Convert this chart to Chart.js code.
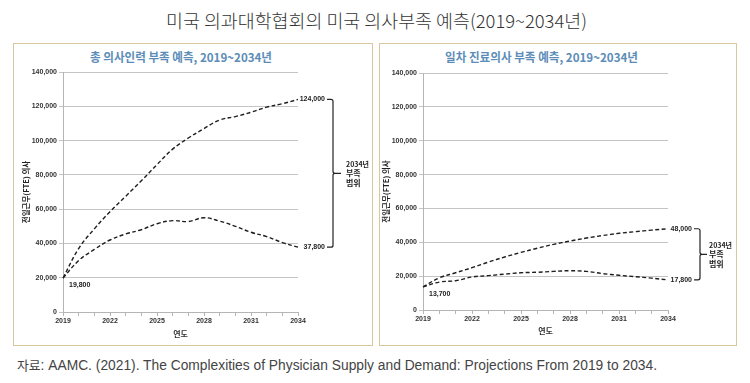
<!DOCTYPE html>
<html><head><meta charset="utf-8">
<script src="https://cdn.jsdelivr.net/npm/chart.js@4"></script>
<style>
html,body{margin:0;padding:0;background:#fff;width:750px;height:383px;overflow:hidden;position:relative;font-family:"Noto Sans CJK KR",sans-serif;}
.fit{position:absolute;white-space:nowrap;transform-origin:0 50%;line-height:1;}
#title{top:11px;font-size:18px;color:#333;font-weight:300;}
.panel{position:absolute;border:1px solid #d8c69c;top:43px;height:303px;box-sizing:border-box;}
#p1{left:13px;width:360px}
#p2{left:379px;width:358px}
.ptitle{top:51px;font-size:12px;font-weight:bold;color:#5b8db8;}
canvas{position:absolute}
#src{top:358px;font-size:14px;color:#444;font-family:"Liberation Sans Narrow","Liberation Sans",sans-serif;}
#src .k{font-family:"Noto Sans CJK KR",sans-serif;font-size:13px;}
</style></head>
<body>
<div class="fit" id="title" data-l="166" data-w="421">미국 의과대학협회의 미국 의사부족 예측(2019~2034년)</div>
<div class="panel" id="p1"></div>
<div class="panel" id="p2"></div>
<div class="fit ptitle" id="t1" data-l="90" data-w="182">총 의사인력 부족 예측, 2019~2034년</div>
<div class="fit ptitle" id="t2" data-l="445" data-w="193">일차 진료의사 부족 예측, 2019~2034년</div>
<canvas id="c1" width="357" height="302" style="left:15px;top:44px"></canvas>
<canvas id="c2" width="356" height="302" style="left:380px;top:44px"></canvas>
<div class="fit" id="src" data-l="17" data-w="640"><span class="k">자료</span>: AAMC. (2021). The Complexities of Physician Supply and Demand: Projections From 2019 to 2034.</div>
<script>
// ---- data ----
const years = ['2019','2020','2021','2022','2023','2024','2025','2026','2027','2028','2029','2030','2031','2032','2033','2034'];
const totalHigh = [19800, 37000, 48500, 58500, 67500, 76500, 86000, 95000, 101500, 107000, 112000, 114000, 116500, 119500, 121500, 124000];
const totalLow  = [19800, 30000, 36500, 42000, 45500, 48000, 51500, 53300, 52800, 55000, 53000, 50000, 46500, 44000, 40500, 37800];
const primaryHigh = [13700, 19000, 22000, 25000, 28300, 31300, 34000, 36500, 38800, 40700, 42500, 44000, 45300, 46300, 47200, 48000];
const primaryLow  = [13700, 16500, 17300, 19500, 20300, 21200, 22000, 22300, 22800, 23200, 22800, 21500, 20500, 19700, 18800, 17800];
const yTicks = [0, 20000, 40000, 60000, 80000, 100000, 120000, 140000];
const rangeLabel = ['2034년', '부족', '범위'];
const yTitle = '전일근무(FTE) 의사';
const xTitle = '연도';

// fit html text widths
document.querySelectorAll('.fit').forEach(el=>{
  const w = el.getBoundingClientRect().width;
  el.style.left = el.dataset.l + 'px';
  el.style.transform = 'scaleX(' + (parseFloat(el.dataset.w)/w) + ')';
});

const fmt = v => v.toLocaleString('en-US');
const tickFont = {family:'"Liberation Sans", Arial, sans-serif', size:7, weight:'bold'};

const annot = {
  id:'annot',
  afterDatasetsDraw(chart){
    const o = chart.options.plugins.annot;
    const {ctx, scales:{x,y}} = chart;
    const n = years.length - 1;
    const xe = x.getPixelForValue(n);
    const top = o.high[n], bot = o.low[n], start = o.high[0];
    const yT = y.getPixelForValue(top), yB = y.getPixelForValue(bot), y0 = y.getPixelForValue(start);
    const bx = xe + o.brace;
    const ym = (yT + yB) / 2;
    ctx.save();
    ctx.fillStyle = '#222';
    ctx.font = 'bold 7px "Liberation Sans", Arial, sans-serif';
    ctx.textBaseline = 'middle';
    ctx.textAlign = 'right';
    ctx.fillText(fmt(top), bx - 8, yT);
    ctx.fillText(fmt(bot), bx - 8, yB);
    ctx.textAlign = 'left';
    ctx.fillText(fmt(start), x.getPixelForValue(0) + 6, y0 + o.startDy);
    ctx.strokeStyle = '#222';
    ctx.lineWidth = 1.2;
    ctx.beginPath();
    ctx.moveTo(bx - 6, yT); ctx.lineTo(bx - 2, yT); ctx.quadraticCurveTo(bx, yT, bx, yT + 2);
    ctx.lineTo(bx, ym - 2); ctx.quadraticCurveTo(bx, ym, bx + 2, ym); ctx.lineTo(bx + o.tick, ym);
    ctx.moveTo(bx + 2, ym); ctx.quadraticCurveTo(bx, ym, bx, ym + 2);
    ctx.lineTo(bx, yB - 2); ctx.quadraticCurveTo(bx, yB, bx - 2, yB); ctx.lineTo(bx - 6, yB);
    ctx.stroke();
    ctx.font = 'bold 7px "Noto Sans CJK KR", sans-serif';
    ctx.textAlign = 'left';
    ctx.fillText(rangeLabel[0], bx + o.textDx, ym - 9);
    ctx.font = 'bold 8px "Noto Sans CJK KR", sans-serif';
    ctx.fillText(rangeLabel[1], bx + o.textDx, ym);
    ctx.fillText(rangeLabel[2], bx + o.textDx, ym + 10);
    ctx.restore();
  }
};

function make(id, high, low, pad, yw, xh, ann){
  const ds = (data) => ({data, borderColor:'#1e1e1e', borderWidth:1.4, borderDash:[4,2.5], pointRadius:0, tension:0.4, fill:false});
  return new Chart(document.getElementById(id), {
    type:'line',
    data:{labels:years, datasets:[ds(high), ds(low)]},
    plugins:[annot],
    options:{
      responsive:false, animation:false, devicePixelRatio:1,
      layout:{padding:pad},
      plugins:{legend:{display:false}, tooltip:{enabled:false}, annot:ann},
      scales:{
        x:{
          grid:{drawOnChartArea:false, color:'#b5b5b5', tickLength:4},
          border:{color:'#b5b5b5'},
          ticks:{autoSkip:false, maxRotation:0, padding:1, color:'#333', font:tickFont,
                 callback:(v,i)=> i%3===0 ? years[i] : ''},
          title:{display:true, text:xTitle, color:'#333', padding:0, font:{family:'"Noto Sans CJK KR", sans-serif', size:8, weight:'bold'}},
          afterFit:s=>{s.height = xh;}
        },
        y:{
          min:0, max:140000,
          afterBuildTicks:s=>{s.ticks = yTicks.map(v=>({value:v}));},
          grid:{color:'#c4c4c4', tickLength:4},
          border:{color:'#b5b5b5'},
          ticks:{padding:2, color:'#333', font:tickFont, callback:v=>fmt(v)},
          title:{display:true, text:yTitle, color:'#222', padding:0, font:{family:'"Noto Sans CJK KR", sans-serif', size:7.5, weight:'bold'}},
          afterFit:s=>{s.width = yw;}
        }
      }
    }
  });
}
make('c1', totalHigh, totalLow, {left:7, top:28, right:74, bottom:7}, 41, 27,
     {high:totalHigh, low:totalLow, brace:35, tick:8, textDx:13, startDy:7});
make('c2', primaryHigh, primaryLow, {left:2, top:29, right:68, bottom:10}, 41, 26,
     {high:primaryHigh, low:primaryLow, brace:32, tick:7, textDx:9, startDy:7});
</script>
</body></html>
